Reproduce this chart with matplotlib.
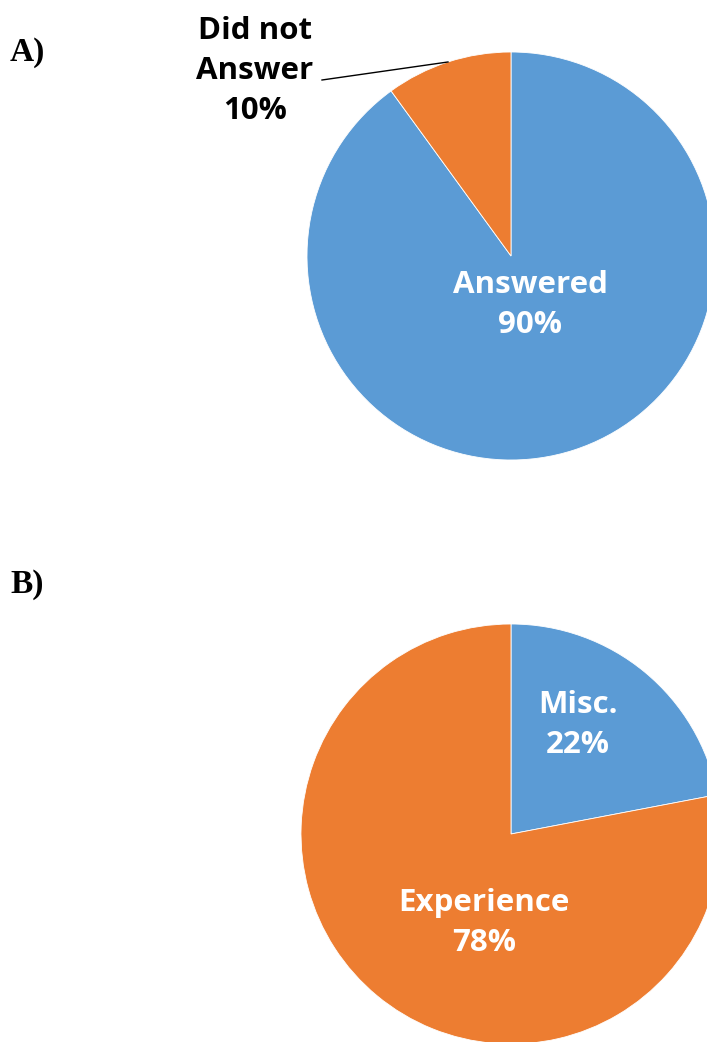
import numpy as np
import matplotlib.pyplot as plt

# panel A
labels_a = ["Answered", "Did not\nAnswer"]
values_a = [90, 10]
# panel B
labels_b = ["Misc.", "Experience"]
values_b = [22, 78]

blue = "#5B9BD5"
orange = "#ED7D31"

W, H = 707, 1042
fig = plt.figure(figsize=(W / 100, H / 100), dpi=100)
ax = fig.add_axes([0, 0, 1, 1])
ax.set_aspect("equal")

lab_font = dict(family="Open Sans", fontweight="bold", fontsize=22.5,
                ha="center", va="center", linespacing=1.42)

def pct(v, vals):
    return f"{round(100 * v / sum(vals))}%"

# pie A
ca, ra = (511, 786), 204
wa, _ = ax.pie(values_a, colors=[blue, orange], startangle=90, counterclock=False,
               center=ca, radius=ra, frame=True,
               wedgeprops=dict(edgecolor="white", linewidth=0.6))
ax.text(530, 737, f"{labels_a[0]}\n{pct(values_a[0], values_a)}", color="white", **lab_font)
# outside label with leader line to middle of the small slice
w = wa[1]
mid = np.deg2rad((w.theta1 + w.theta2) / 2)
tip = (ca[0] + ra * np.cos(mid), ca[1] + ra * np.sin(mid))
ax.text(255, 971, f"{labels_a[1]}\n{pct(values_a[1], values_a)}", color="black", **lab_font)
ax.plot([322, tip[0]], [962, tip[1]], color="black", lw=1)

# pie B
cb, rb = (511, 208), 210
ax.pie(values_b, colors=[blue, orange], startangle=90, counterclock=False,
       center=cb, radius=rb, frame=True,
       wedgeprops=dict(edgecolor="white", linewidth=0.6))
ax.text(578, 317, f"{labels_b[0]}\n{pct(values_b[0], values_b)}", color="white", **lab_font)
ax.text(484, 119, f"{labels_b[1]}\n{pct(values_b[1], values_b)}", color="white", **lab_font)

ax.set_xlim(0, W)
ax.set_ylim(0, H)
ax.axis("off")

ax.text(10, 990, "A)", family="Liberation Serif", fontweight="bold", fontsize=24,
        ha="left", va="center")
ax.text(10, 458, "B)", family="Liberation Serif", fontweight="bold", fontsize=24,
        ha="left", va="center")

fig.savefig("out.png", dpi=100)
